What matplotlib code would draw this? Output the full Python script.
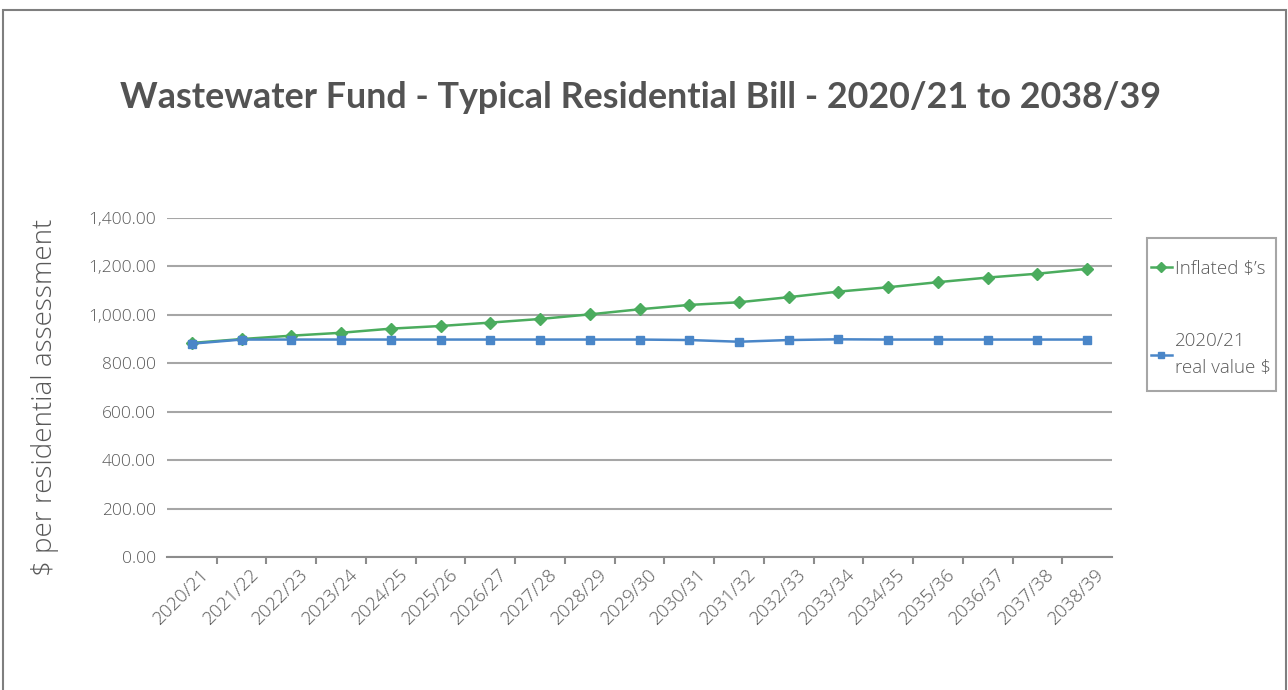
import matplotlib
matplotlib.use("Agg")
from matplotlib import pyplot as plt
from matplotlib.patches import Rectangle
from matplotlib.transforms import ScaledTranslation

years = ["2020/21", "2021/22", "2022/23", "2023/24", "2024/25", "2025/26", "2026/27",
         "2027/28", "2028/29", "2029/30", "2030/31", "2031/32", "2032/33", "2033/34",
         "2034/35", "2035/36", "2036/37", "2037/38", "2038/39"]
inflated = [884, 900, 914, 926, 943, 954, 968, 983, 1002, 1023,
            1041, 1052, 1073, 1096, 1114, 1135, 1154, 1170, 1190]
real_value = [881, 898, 898, 898, 898, 898, 898, 898, 898, 898,
              896, 889, 896, 899, 898, 898, 898, 898, 898]

plt.rcParams['font.family'] = ['Open Sans', 'DejaVu Sans']
txt = '#595959'

fig = plt.figure(figsize=(12.88, 6.9), dpi=100)
fig.patches.append(Rectangle((3 / 1288, -0.1), 1283 / 1288, 1.0855, transform=fig.transFigure,
                             fill=False, edgecolor='#7f7f7f', linewidth=1.5))
# legend box
fig.patches.append(Rectangle((1147 / 1288, 1 - 391 / 690), 129 / 1288, 153 / 690,
                             transform=fig.transFigure, fill=False,
                             edgecolor='#a6a6a6', linewidth=1.5))

ax = fig.add_axes([167 / 1288, 1 - 557 / 690, 945 / 1288, 339 / 690])
x = list(range(len(years)))
ax.plot(x, inflated, color='#4bac5e', linewidth=1.8, marker='D', markersize=6.5,
        label="Inflated $\u2019s")
ax.plot(x, real_value, color='#4a86c8', linewidth=1.8, marker='s', markersize=6,
        label="2020/21\nreal value $")

ax.set_xlim(-0.5, len(years) - 0.5)
ax.set_ylim(0, 1400)
ax.set_yticks(range(0, 1401, 200))
ax.set_yticklabels(["{:,.2f}".format(v) for v in range(0, 1401, 200)],
                   fontsize=12.5, color=txt, fontweight='light')
ax.grid(axis='y', color='#a6a6a6', linewidth=1.5)
ax.set_axisbelow(True)
for s in ['top', 'right', 'left']:
    ax.spines[s].set_visible(False)
ax.spines['bottom'].set_color('#8c8c8c')
ax.spines['bottom'].set_linewidth(1.5)
ax.tick_params(axis='y', length=0, pad=8)

# category labels at the points, tick marks between categories
ax.set_xticks(x)
ax.set_xticklabels(years, rotation=45, ha='right', rotation_mode='anchor',
                   fontsize=13.5, color=txt, fontweight='light')
ax.tick_params(axis='x', which='major', length=0, pad=6)
shift = ScaledTranslation(8 / 100, 0, fig.dpi_scale_trans)
for lbl in ax.get_xticklabels():
    lbl.set_transform(lbl.get_transform() + shift)
ax.set_xticks([i + 0.5 for i in x[:-1]], minor=True)
ax.tick_params(axis='x', which='minor', length=5, color='#8c8c8c', width=1.5)

ax.set_ylabel("$ per residential assessment", fontsize=20, color=txt, fontweight='light')
ax.yaxis.set_label_coords(-108 / 945, 0.47)

fig.text(0.497, 1 - 98 / 690, "Wastewater Fund - Typical Residential Bill - 2020/21 to 2038/39",
         ha='center', va='center', fontsize=25.8, fontweight='bold', color='#535353',
         fontfamily='Lato')

leg = ax.legend(loc='upper left', bbox_to_anchor=(1151 / 1288, 1 - 260 / 690),
                bbox_transform=fig.transFigure, fontsize=13.5, frameon=False,
                handlelength=1.1, handletextpad=0.2, labelspacing=2.9,
                borderpad=0, borderaxespad=0, markerscale=0.8)
for t in leg.get_texts():
    t.set_color(txt)
    t.set_fontweight('light')
    t.set_linespacing(1.6)

fig.savefig("out.png", dpi=100)
